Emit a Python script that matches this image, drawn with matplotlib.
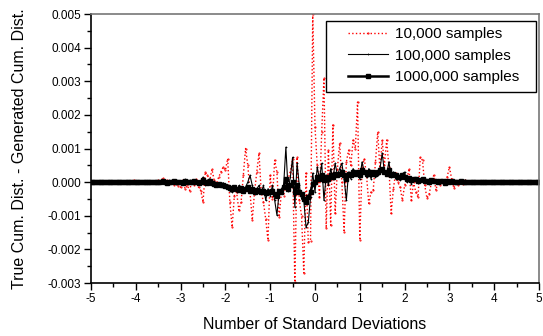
import numpy as np
import matplotlib
matplotlib.use('Agg')
import matplotlib.pyplot as plt
from matplotlib.patches import Rectangle
from matplotlib.ticker import MultipleLocator, FormatStrFormatter

plt.rcParams['font.family'] = ['Liberation Sans', 'DejaVu Sans']
plt.rcParams['axes.unicode_minus'] = False

# values in units of 1e-3, sampled every 0.05 std dev from -5 to 5
# tails: -5.00 .. -3.55 and 3.55 .. 5.00 ; core: -3.50 .. 3.50
red_left = [0.0, 0.01, -0.01, 0.0, 0.02, -0.01, 0.0, 0.01, 0.0, -0.02,
            0.01, 0.0, 0.02, -0.01, 0.0, 0.03, -0.02, 0.01, 0.0, 0.06,
            0.02, -0.01, 0.0, 0.03, -0.02, 0.01, 0.04, -0.03, 0.02, 0.0]
red_core = [0.05, -0.02, 0.12, 0.0, 0.05, -0.05, 0.03, -0.1, 0.02, -0.12,
            -0.15, 0.05, -0.2, -0.1, -0.25, 0.02, -0.1, 0.1, -0.15, -0.25,
            -0.6, 0.3, 0.2, 0.05, 0.38, 0.05, -0.05, 0.15, 0.3, 0.45,
            0.35, 0.7, -0.6, -1.34, -0.4, -0.3, -0.83, -0.6, 0.2, 1.0,
            0.5, -0.3, -1.13, -0.3, 0.3, 0.86, -0.3, -0.6, -1.1, -1.73,
            0.2, -0.5, 0.65, 0.3, -1.04, -0.3, -0.4, -0.1, 0.1, 0.3,
            0.7, -2.98, 0.74, -0.54, -1.0, -2.7, 0.27, -1.78, -1.75, 5.0,
            1.64, 0.5, -0.45, 1.5, 3.1, -1.37, 0.95, -1.28, 1.7, -0.93,
            0.4, 1.16, 0.0, -1.49, 0.6, 0.95, 0.5, 1.25, 1.0, 2.38,
            -1.73, 0.45, 0.7, 0.2, -0.63, -0.3, -0.24, 0.6, 1.49, 0.36,
            1.25, 0.5, 1.25, 0.45, -0.93, -0.2, 0.27, 0.0, -0.15, -0.54,
            -0.1, 0.06, 0.4, -0.54, 0.0, -0.3, -0.45, 0.74, 0.65, -0.1,
            -0.48, -0.35, 0.0, 0.2, -0.24, 0.05, -0.1, 0.05, -0.05, 0.15,
            0.45, 0.1, -0.18, 0.0, -0.1, 0.02, -0.05, 0.05, 0.02, 0.0,
            0.02]
red_right = [0.0, -0.02, 0.03, 0.01, -0.01, 0.02, 0.0, 0.01, -0.01, 0.0,
             0.02, 0.0, -0.01, 0.01, 0.0, 0.0, 0.01, -0.01, 0.0, 0.01,
             0.0, 0.0, -0.01, 0.01, 0.0, 0.0, 0.01, 0.0, -0.01, 0.0]

thin_left = [0.0, 0.01, 0.0, -0.01, 0.01, 0.0, 0.02, -0.01, 0.0, 0.01,
             -0.02, 0.01, 0.0, 0.02, -0.01, 0.01, 0.0, -0.02, 0.02, 0.0,
             0.01, -0.01, 0.02, 0.0, -0.02, 0.03, 0.0, -0.01, 0.02, -0.02]
thin_core = [0.02, -0.02, 0.03, 0.0, -0.03, 0.05, -0.02, 0.04, -0.05, 0.02,
             0.0, 0.05, 0.08, -0.03, 0.05, 0.0, -0.06, 0.04, -0.05, 0.02,
             0.15, -0.08, 0.05, 0.1, -0.05, 0.02, -0.1, -0.05, -0.12, -0.02,
             -0.15, -0.1, -0.25, -0.3, -0.15, -0.28, -0.1, -0.25, -0.3, -0.15,
             0.0, 0.2, -0.1, -0.35, -0.2, -0.1, -0.3, -0.1, -0.54, -0.2,
             -0.4, -0.1, -0.54, -0.98, -0.3, -0.2, -0.1, 1.04, -0.25, 0.15,
             0.74, -0.74, 0.56, -0.1, -0.5, -0.54, -1.34, -1.2, -0.45, 0.27,
             -0.3, 0.45, 0.1, 0.56, -0.54, 0.2, -0.1, 0.4, 0.1, 0.56,
             0.2, 0.4, 0.56, 0.1, -0.54, 0.3, 0.1, 0.4, 0.2, 0.3,
             0.1, 0.6, 0.3, 0.15, 0.4, 0.1, 0.3, 0.15, 0.2, 0.4,
             0.86, 0.3, 0.25, 0.6, 0.15, 0.3, 0.1, 0.2, 0.05, 0.25,
             0.3, 0.0, 0.1, -0.05, 0.05, 0.1, -0.02, 0.05, 0.12, 0.0,
             0.05, -0.05, 0.08, 0.0, 0.05, -0.03, 0.06, 0.02, -0.05, 0.04,
             0.0, 0.03, -0.02, 0.02, 0.0, -0.03, 0.02, 0.06, 0.01, -0.01,
             0.0]
thin_right = [0.01, -0.02, 0.02, 0.0, -0.01, 0.02, 0.0, 0.01, -0.01, 0.0,
              0.01, 0.0, -0.01, 0.01, 0.0, 0.01, -0.01, 0.0, 0.01, 0.0,
              0.0, -0.01, 0.01, 0.0, 0.0, 0.01, -0.01, 0.0, 0.0, 0.0]

thick_left = [0.0, 0.0, 0.01, 0.0, -0.01, 0.0, 0.01, 0.0, 0.0, -0.01,
              0.0, 0.01, 0.0, 0.0, -0.01, 0.01, 0.0, 0.0, 0.01, -0.01,
              0.0, 0.01, 0.0, -0.01, 0.0, 0.01, 0.0, 0.0, -0.01, 0.0]
thick_core = [0.01, -0.01, 0.02, 0.0, -0.02, 0.01, 0.0, 0.02, -0.01, 0.0,
              0.01, -0.02, 0.02, 0.0, 0.01, -0.01, 0.02, 0.0, -0.02, 0.01,
              0.05, 0.0, -0.02, 0.03, -0.03, -0.05, -0.08, -0.06, -0.1, -0.08,
              -0.12, -0.15, -0.18, -0.2, -0.15, -0.2, -0.22, -0.18, -0.25, -0.2,
              -0.15, -0.25, -0.2, -0.28, -0.22, -0.25, -0.3, -0.25, -0.32, -0.28,
              -0.3, -0.25, -0.35, -0.4, -0.25, -0.3, -0.15, 0.1, -0.2, -0.1,
              0.0, -0.3, -0.1, -0.3, -0.35, -0.5, -0.6, -0.45, -0.3, -0.05,
              0.0, 0.15, 0.1, 0.2, 0.05, 0.15, 0.1, 0.2, 0.15, 0.25,
              0.2, 0.25, 0.3, 0.2, 0.1, 0.25, 0.2, 0.3, 0.25, 0.3,
              0.2, 0.35, 0.3, 0.25, 0.3, 0.25, 0.3, 0.25, 0.3, 0.35,
              0.4, 0.3, 0.25, 0.35, 0.2, 0.25, 0.2, 0.15, 0.15, 0.2,
              0.15, 0.1, 0.12, 0.05, 0.08, 0.1, 0.03, 0.06, 0.08, 0.02,
              0.04, 0.0, 0.05, 0.02, 0.03, 0.0, 0.04, 0.02, -0.02, 0.03,
              0.0, 0.02, 0.0, 0.01, -0.01, 0.02, 0.0, 0.01, 0.0, 0.0,
              0.0]
thick_right = [0.0, 0.01, 0.0, 0.0, -0.01, 0.0, 0.01, 0.0, 0.0, 0.0,
               -0.01, 0.0, 0.01, 0.0, 0.0, 0.0, 0.0, 0.01, 0.0, 0.0,
               -0.01, 0.0, 0.0, 0.0, 0.01, 0.0, 0.0, 0.0, 0.0, 0.0]

labels = ['10,000 samples', '100,000 samples', '1000,000 samples']

red = np.array(red_left + red_core + red_right) * 1e-3
thin = np.array(thin_left + thin_core + thin_right) * 1e-3
thick = np.array(thick_left + thick_core + thick_right) * 1e-3
x = np.linspace(-5, 5, len(red))

fig = plt.figure(figsize=(5.43, 3.36), dpi=100)
ax = fig.add_axes([0.1676, 0.1577, 0.825, 0.8006])

ax.plot(x, red, color='red', ls=':', lw=1.0, marker='.', ms=1.0, label=labels[0])
ax.plot(x, thin, color='black', ls='-', lw=0.8, marker='+', ms=2.0, mew=0.5, label=labels[1])
ax.plot(x, thick, color='black', ls='-', lw=1.8, marker='s', ms=2.2, label=labels[2])

ax.set_xlim(-5, 5)
ax.set_ylim(-0.003, 0.005)
ax.xaxis.set_major_locator(MultipleLocator(1))
ax.xaxis.set_minor_locator(MultipleLocator(0.5))
ax.yaxis.set_major_locator(MultipleLocator(0.001))
ax.yaxis.set_minor_locator(MultipleLocator(0.0005))
ax.yaxis.set_major_formatter(FormatStrFormatter('%.3f'))
ax.tick_params(which='both', direction='out', top=False, right=False, labelsize=8.5, width=1, pad=2)
ax.tick_params(which='major', length=5)
ax.tick_params(which='minor', length=3)
for s in ['left', 'bottom']:
    ax.spines[s].set_linewidth(1.2)
for s in ['top', 'right']:
    ax.spines[s].set_color('#777777')
    ax.spines[s].set_linewidth(1.2)

ax.set_xlabel('Number of Standard Deviations', fontsize=11.5, labelpad=9)
ax.set_ylabel('True Cum. Dist. - Generated Cum. Dist.', fontsize=11.5, labelpad=15)

# legend box drawn separately (Origin style: wide side padding)
ax.add_patch(Rectangle((0.5246, 0.710), 0.4684, 0.264, transform=ax.transAxes,
                       fill=True, fc='white', ec='black', lw=1.0, zorder=5))
leg = ax.legend(loc='upper right', bbox_to_anchor=(0.955, 0.952), borderaxespad=0,
                borderpad=0, fontsize=11, numpoints=1, handlelength=2.6,
                handletextpad=0.45, labelspacing=0.5, frameon=False)
leg.set_zorder(6)

fig.savefig('out.png', dpi=100)
